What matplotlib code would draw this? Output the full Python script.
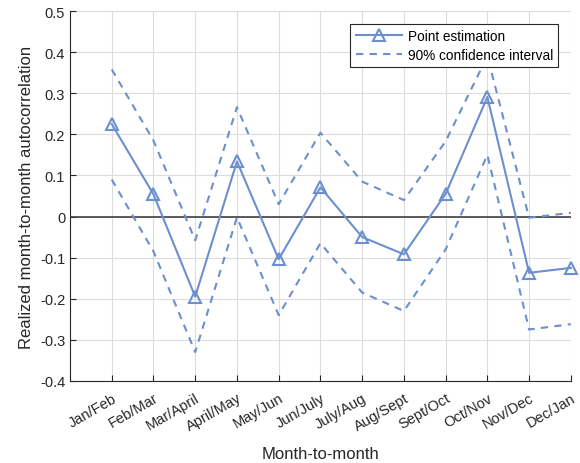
import matplotlib
matplotlib.use('Agg')
import matplotlib.pyplot as plt
import numpy as np

plt.rcParams['font.family'] = ['Liberation Sans', 'DejaVu Sans']

# month pairs
months = ['Jan/Feb', 'Feb/Mar', 'Mar/April', 'April/May', 'May/Jun', 'Jun/July',
          'July/Aug', 'Aug/Sept', 'Sept/Oct', 'Oct/Nov', 'Nov/Dec', 'Dec/Jan']
point_est = [0.225, 0.054, -0.195, 0.134, -0.104, 0.071, -0.050, -0.092, 0.055, 0.291, -0.137, -0.125]
ci_upper = [0.358, 0.185, -0.058, 0.266, 0.030, 0.204, 0.085, 0.040, 0.183, 0.390, -0.003, 0.009]
ci_lower = [0.090, -0.085, -0.330, -0.002, -0.240, -0.065, -0.185, -0.230, -0.080, 0.150, -0.275, -0.262]

col = '#6b8fcf'
x = np.arange(1, len(months) + 1)

fig = plt.figure(figsize=(5.8, 4.64), dpi=100)
ax = fig.add_axes([0.1207, 0.177, 0.8635, 0.797])

ax.plot(x, point_est, '-', color=col, lw=1.5, marker='^', markersize=8,
        markerfacecolor='none', markeredgewidth=1.5, label='Point estimation', clip_on=False, zorder=3)
ax.plot(x, ci_upper, '--', color=col, lw=1.5, dashes=(3.5, 3), label='90% confidence interval')
ax.plot(x, ci_lower, '--', color=col, lw=1.5, dashes=(3.5, 3))
ax.axhline(0, color='#404040', lw=1.2, zorder=1)

ax.set_xlim(0, 12)
ax.set_ylim(-0.4, 0.5)
ax.set_xticks(x)
ax.set_xticklabels(months, rotation=30, ha='right', rotation_mode='anchor',
                   fontsize=10.5, color='#262626')
ax.set_yticks(np.round(np.arange(-0.4, 0.51, 0.1), 1))
ax.set_yticklabels(['-0.4', '-0.3', '-0.2', '-0.1', '0', '0.1', '0.2', '0.3', '0.4', '0.5'],
                   fontsize=10.5, color='#262626')
ax.grid(True, color='#dcdcdc', lw=0.8)
ax.set_axisbelow(True)
ax.tick_params(direction='in', length=4, color='#262626')
ax.tick_params(axis='x', pad=7)
for s in ['top', 'right']:
    ax.spines[s].set_visible(False)
for s in ['left', 'bottom']:
    ax.spines[s].set_color('#262626')

ax.set_xlabel('Month-to-month', fontsize=12, color='#262626', labelpad=9)
ax.set_ylabel('Realized month-to-month autocorrelation', fontsize=12, color='#262626')

leg = ax.legend(loc='upper right', bbox_to_anchor=(0.975, 0.966), fontsize=9.8,
                fancybox=False, framealpha=1, edgecolor='#262626', handlelength=3.4,
                borderpad=0.4, labelspacing=0.35, handletextpad=0.4, borderaxespad=0)
leg.get_frame().set_linewidth(0.8)

fig.savefig('out.png', dpi=100)
